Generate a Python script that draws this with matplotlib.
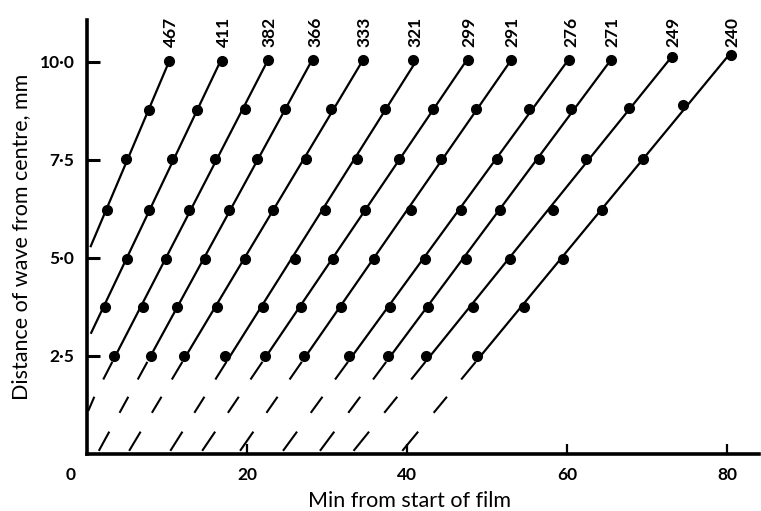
import numpy as np
import matplotlib
matplotlib.use("Agg")
import matplotlib.pyplot as plt

plt.rcParams['font.family'] = ['Lato', 'DejaVu Sans']

# ---- data ----
labels = ['467', '411', '382', '366', '333', '321', '299', '291', '276', '271', '249', '240']
x_467 = [2.5, 4.9, 7.8, 10.3]
y_467 = [6.23, 7.53, 8.78, 10.03]
x_411 = [2.2, 5.0, 7.7, 10.6, 13.8, 16.9]
y_411 = [3.76, 4.97, 6.23, 7.53, 8.78, 10.03]
x_382 = [3.4, 7.0, 9.9, 12.8, 16.0, 19.7, 22.6]
x_366 = [8.0, 11.3, 14.7, 17.8, 21.3, 24.7, 28.3]
x_333 = [12.1, 16.2, 19.8, 23.3, 27.4, 30.5, 34.5]
x_321 = [17.2, 22.0, 26.0, 29.7, 33.8, 37.2, 40.8]
x_299 = [22.3, 26.8, 30.7, 34.8, 39.0, 43.2, 47.6]
x_291 = [27.1, 31.7, 35.9, 40.5, 44.3, 48.6, 53.0]
x_276 = [32.8, 37.9, 42.2, 46.7, 51.2, 55.2, 60.3]
x_271 = [37.6, 42.6, 47.4, 51.6, 56.5, 60.5, 65.5]
x_249 = [42.4, 48.2, 52.9, 58.2, 62.4, 67.7, 73.1]
x_240 = [48.8, 54.6, 59.5, 64.4, 69.5, 74.5, 80.5]
y_full = [2.51, 3.76, 4.97, 6.23, 7.53, 8.80, 10.05]
y_249 = [2.51, 3.76, 4.97, 6.23, 7.53, 8.83, 10.12]
y_240 = [2.51, 3.76, 4.97, 6.23, 7.53, 8.89, 10.18]

xs = [x_467, x_411, x_382, x_366, x_333, x_321, x_299, x_291, x_276, x_271, x_249, x_240]
ys = [y_467, y_411, y_full, y_full, y_full, y_full, y_full, y_full, y_full, y_full, y_249, y_240]

yticks = [2.5, 5.0, 7.5, 10.0]
ytick_labels = ['2\u00b75', '5\u00b70', '7\u00b75', '10\u00b70']
xticks = [20, 40, 60, 80]
xtick_labels = ['20', '40', '60', '80']

solid_floor = 2.5
dash_bands = [(1.9, 2.35), (1.05, 1.46), (0.08, 0.57)]

# ---- figure ----
fig = plt.figure(figsize=(7.61, 5.11), dpi=100)
ax = fig.add_axes([87/761, 57/511, 672/761, 434/511])
ax.set_xlim(0, 84)
ax.set_ylim(0, 11.07)

for lab, x, y in zip(labels, xs, ys):
    x = np.array(x); y = np.array(y)
    a, b = np.polyfit(y, x, 1)   # x = a*y + b
    y_axis_hit = -b / a
    y_lo = max(solid_floor, y_axis_hit + 0.2)
    y_lo = min(y_lo, y.min())
    y_hi = y.max()
    yy = np.array([y_lo, y_hi])
    ax.plot(a * yy + b, yy, color='black', lw=1.6, solid_capstyle='butt', zorder=2)
    ax.plot(x, y, 'o', color='black', ms=7, zorder=3)
    for (y0, y1) in dash_bands:
        if y1 > y.min():
            continue
        x0, x1 = a * y0 + b, a * y1 + b
        if x1 <= 0:
            continue
        if x0 < 0:
            y0 = y_axis_hit
            x0 = 0.15
        ax.plot([x0, x1], [y0, y1], color='black', lw=1.5, solid_capstyle='butt', zorder=2)
    ax.text(x[-1] + 0.2, 10.38, lab, rotation=90, ha='center', va='bottom',
            fontsize=12.5, fontweight='bold')

for s in ['top', 'right']:
    ax.spines[s].set_visible(False)
ax.spines['left'].set_linewidth(2.6)
ax.spines['bottom'].set_linewidth(2.6)

ax.set_yticks(yticks)
ax.set_yticklabels(ytick_labels, fontsize=12.5, fontweight='bold')
ax.set_xticks(xticks)
ax.set_xticklabels(xtick_labels, fontsize=12.5, fontweight='bold')
ax.tick_params(axis='y', direction='in', length=9, width=2.2, pad=9)
ax.tick_params(axis='x', direction='in', length=7, width=1.6, pad=9)

ax.annotate('0', xy=(0, 0), xycoords='data', xytext=(-12, -9),
            textcoords='offset points', ha='center', va='top',
            fontsize=12.5, fontweight='bold')

ax.set_xlabel('Min from start of film', fontsize=15.5)
ax.xaxis.set_label_coords(0.48, -0.085)
ax.set_ylabel('Distance of wave from centre, mm', fontsize=15.5)
ax.yaxis.set_label_coords(-0.083, 0.5)

fig.savefig('out.png', dpi=100)
